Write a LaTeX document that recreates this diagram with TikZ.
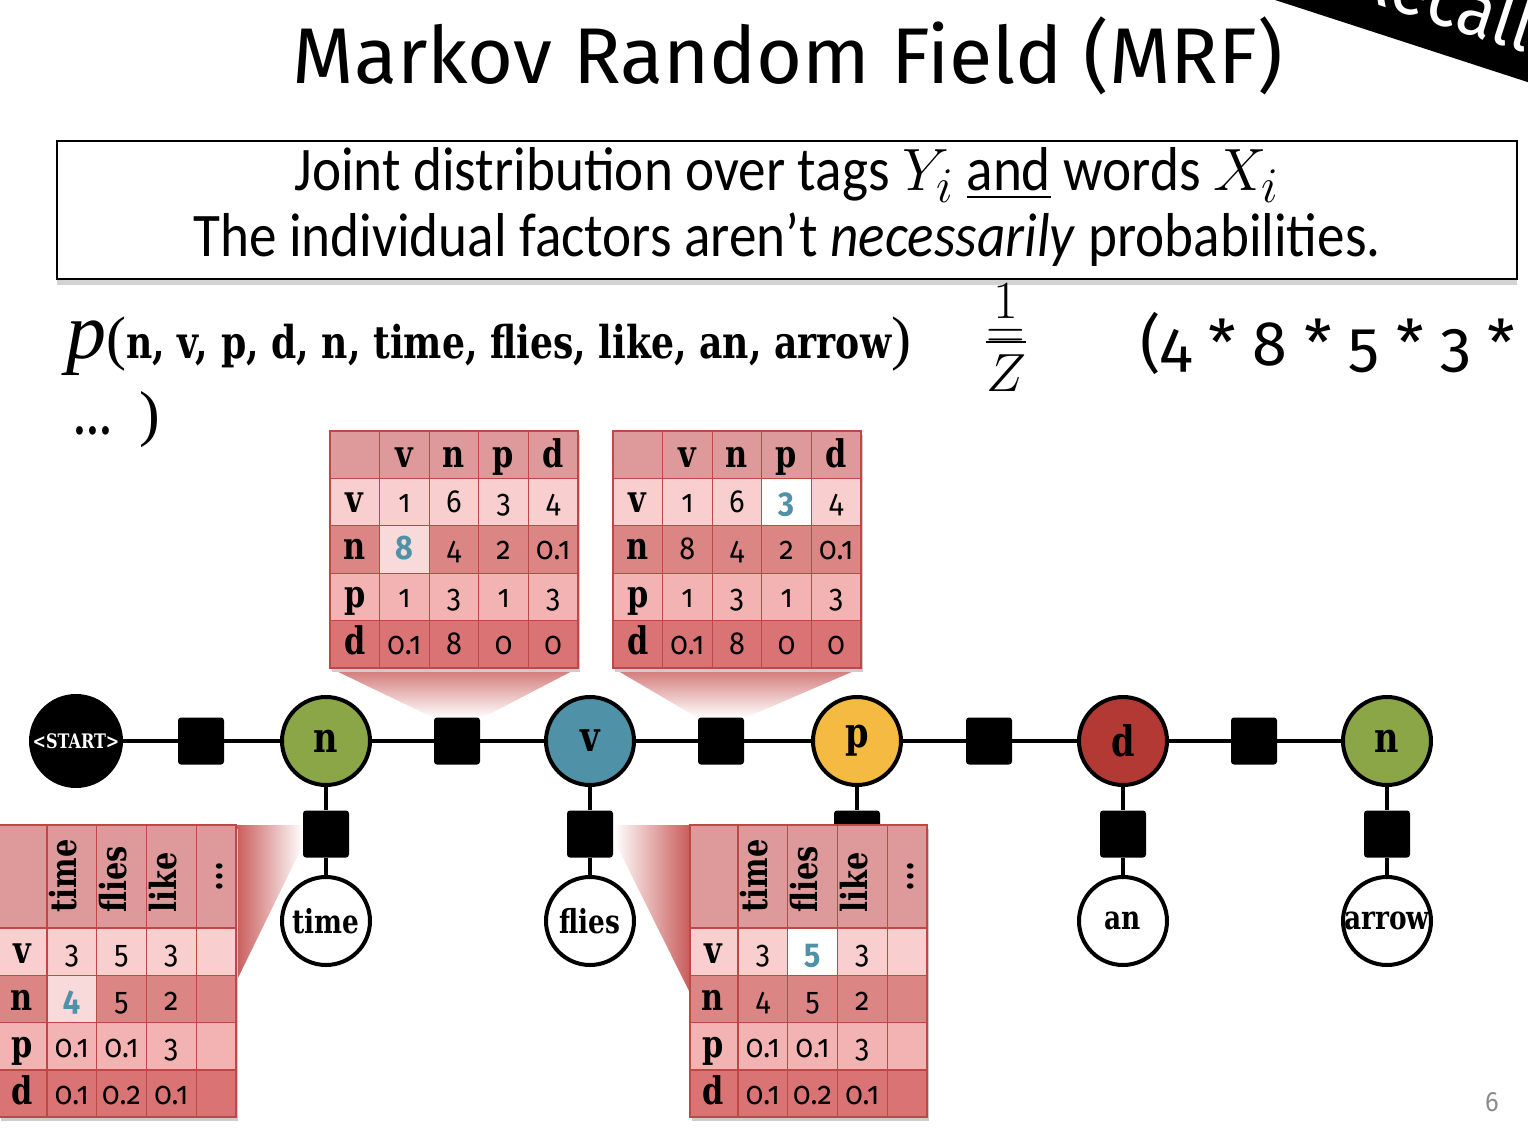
\documentclass[tikz,border=0pt]{standalone}
\usepackage{amsmath}
\usepackage{graphicx}
\usepackage{fontspec}
\setmainfont{Carlito}[FakeStretch=0.89]
\newfontfamily\gill{Fira Sans}[Numbers=OldStyle,FakeStretch=0.9]
\newfontfamily\gillwide{Fira Sans}[Numbers=OldStyle]
\newfontfamily\slab{DejaVu Serif}[FakeStretch=0.8]
\newfontfamily\timesfont{Liberation Serif}
\usetikzlibrary{shadows,positioning}
\definecolor{RowHead}{RGB}{222,154,154}
\definecolor{RowV}{RGB}{248,206,206}
\definecolor{RowN}{RGB}{219,133,133}
\definecolor{RowP}{RGB}{243,179,179}
\definecolor{RowD}{RGB}{218,116,116}
\definecolor{Hi}{RGB}{249,218,218}
\definecolor{Grid}{RGB}{190,72,70}
\definecolor{WedgeRed}{RGB}{200,92,90}
\definecolor{TagBlue}{RGB}{79,146,168}
\definecolor{TagGreen}{RGB}{139,166,71}
\definecolor{TagTeal}{RGB}{79,145,166}
\definecolor{TagYellow}{RGB}{244,186,66}
\definecolor{TagRed}{RGB}{179,58,52}

\tikzset{
  varnode/.style={circle,draw=black,line width=2pt,minimum size=44pt,inner sep=0pt,
    font=\slab\bfseries\fontsize{21}{24}\selectfont},
  wordnode/.style={circle,draw=black,fill=white,line width=2pt,minimum size=44pt,inner sep=0pt,
    font=\slab\bfseries\fontsize{16.5}{18}\selectfont},
  factor/.style={fill=black,rounded corners=1.5pt,minimum width=23pt,minimum height=23.5pt,inner sep=0pt},
  edge/.style={line width=2pt},
  gridline/.style={draw=Grid,line width=0.6pt},
  hdr/.style={font=\slab\bfseries\fontsize{19}{20}\selectfont,anchor=base,inner sep=0pt},
  whdr/.style={font=\slab\bfseries\fontsize{18}{20}\selectfont,rotate=90,anchor=mid west,inner sep=0pt},
  num/.style={font=\gill\fontsize{16}{18}\selectfont,anchor=base,inner sep=0pt},
  hinum/.style={text=TagBlue,font=\gill\bfseries\fontsize{17}{18}\selectfont},
}

\begin{document}
\begin{tikzpicture}[x=0.5pt,y=-0.5pt]
  \useasboundingbox (0,0) rectangle (1528,1130);

  % title and recall band
  \node[font=\gillwide\fontsize{39.5}{44}\selectfont,anchor=base,inner sep=0pt] (title) at (788,83) {Markov Random Field (MRF)};
  \begin{scope}
    \clip (0,0) rectangle (1528,1130);
    \fill[rotate around={-18:(1450,40)}] (1150,56) rectangle (1750,-200);
    \node[font=\gill\fontsize{38}{42}\selectfont,text=white,rotate=-18,anchor=base east,inner sep=0pt] (recall) at (1526,53) {Recall};
  \end{scope}

  % statement box
  \node[draw,fill=white,line width=1pt,minimum width=730pt,minimum height=69pt,
    drop shadow={shadow xshift=0pt,shadow yshift=-3pt,opacity=0.35}] (box) at (787,210) {};
  \node[font=\fontsize{31}{36}\selectfont,anchor=base,inner sep=0pt] (line1) at (787,190)
    {Joint distribution over tags \scalebox{1.2}{$Y_i$} \underline{and} words \scalebox{1.2}{$X_i$}};
  \node[font=\fontsize{31}{36}\selectfont,anchor=base,inner sep=0pt] (line2) at (787,256)
    {The individual factors aren’t \textit{necessarily} probabilities.};

  % the product
  \node[anchor=base west,inner sep=0pt] (joint) at (66,358)
    {{\timesfont\itshape\fontsize{40}{44}\selectfont p}{\timesfont\fontsize{30}{32}\selectfont(}{\slab\bfseries\fontsize{22.6}{24}\selectfont n, v, p, d, n, time, flies, like, an, arrow}{\timesfont\fontsize{30}{32}\selectfont)}};
  \node[anchor=base west,inner sep=0pt] (jointmore) at (73,434)
    {{\slab\bfseries\fontsize{23}{24}\selectfont...}\hspace{14pt}{\timesfont\fontsize{31}{32}\selectfont)}};
  \node[inner sep=0pt] (zfrac) at (1006,338) {\fontsize{31}{36}\selectfont\scalebox{1.08}{$\dfrac{1}{Z}$}};
  \node[inner sep=0pt] (zeq) at (1006,339) {\fontsize{31}{36}\selectfont\scalebox{1.08}{$=$}};
  \node[font=\gillwide\fontsize{31.5}{34}\selectfont,anchor=base west,inner sep=0pt] (prod) at (1140,365) {(4 * 8 * 5 * 3 *};

  % wedges from tables to factors
  \shade[top color=WedgeRed!85,bottom color=white] (330,668) -- (578,668) -- (482,718) -- (434,718) -- cycle;
  \shade[top color=WedgeRed!85,bottom color=white] (613,668) -- (861,668) -- (745,718) -- (698,718) -- cycle;
  \shade[left color=WedgeRed,right color=white] (236,825) -- (303,825) -- (303,845) -- (236,982) -- cycle;
  \shade[left color=white,right color=WedgeRed] (614,825) -- (690,825) -- (690,993) -- (614,840) -- cycle;

  % chain
  \node[varnode,fill=black,text=white,font=\slab\bfseries\fontsize{10}{12}\selectfont,minimum size=45pt] (start) at (76,741) {<START>};
  \node[factor] (f0) at (201,741) {};
  \node[varnode,fill=TagGreen] (y1) at (326,741) {n};
  \node[factor] (f1) at (457,741) {};
  \node[varnode,fill=TagTeal] (y2) at (590,741) {v};
  \node[factor] (f2) at (721,741) {};
  \node[varnode,fill=TagYellow] (y3) at (857,741) {p};
  \node[factor] (f3) at (989,741) {};
  \node[varnode,fill=TagRed] (y4) at (1123,741) {d};
  \node[factor] (f4) at (1254,741) {};
  \node[varnode,fill=TagGreen] (y5) at (1387,741) {n};
  \draw[edge] (start) -- (f0) -- (y1) -- (f1) -- (y2) -- (f2) -- (y3) -- (f3) -- (y4) -- (f4) -- (y5);

  \foreach \i/\x/\w in {1/326/time,2/590/flies,4/1123/an,5/1387/arrow}{
    \node[factor] (g\i) at (\x,834) {};
    \node[wordnode] (x\i) at (\x,921) {\w};
    \draw[edge] (y\i) -- (g\i) -- (x\i);
  }
  \node[factor] (g3) at (857,834) {};
  \draw[edge] (y3) -- (g3);

  % transition tables
  \foreach \tx/\tn/\hr/\hc/\hl in {330/A/2/1/Hi,613/B/1/3/white}{
    \begin{scope}[shift={(\tx,431)}]
      \fill[black!20] (2,4) rectangle (250,241);
      \foreach \col [count=\ri from 0] in {RowHead,RowV,RowN,RowP,RowD}
        \fill[\col] (0,47.4*\ri) rectangle (248,47.4*\ri+47.4);
      \fill[\hl] (49.6*\hc,47.4*\hr) rectangle ++(49.6,47.4);
      \foreach \i in {1,...,4}{
        \draw[gridline] (49.6*\i,0) -- (49.6*\i,237);
        \draw[gridline] (0,47.4*\i) -- (248,47.4*\i);
      }
      \draw[gridline,line width=1pt] (0,0) rectangle (248,237);
      \foreach \t [count=\i] in {v,n,p,d}{
        \node[hdr] (\tn-c\i) at (49.6*\i+24.8,36) {\t};
        \node[hdr] (\tn-r\i) at (24.8,47.4*\i+34) {\t};
      }
      \foreach \row [count=\ri] in {{1,6,3,4},{8,4,2,0.1},{1,3,1,3},{0.1,8,0,0}}
        \foreach \v [count=\ci] in \row {
          \ifnum\ri\ci=\hr\hc\relax
            \node[num,hinum] (\tn-\ri-\ci) at (49.6*\ci+24.8,47.4*\ri+34) {\v};
          \else
            \node[num] (\tn-\ri-\ci) at (49.6*\ci+24.8,47.4*\ri+34) {\v};
          \fi
        }
    \end{scope}
  }

  % emission tables
  \foreach \tx/\tn/\hr/\hc/\hl in {-1/C/2/1/Hi,690/D/1/2/white}{
    \begin{scope}[shift={(\tx,825)}]
      \fill[black!20] (2,4) rectangle (239,296);
      \fill[RowHead] (0,0) rectangle (237,103);
      \foreach \col [count=\ri from 0] in {RowV,RowN,RowP,RowD}
        \fill[\col] (0,103+47.3*\ri) rectangle (237,150.3+47.3*\ri);
      \fill[\hl] (48+49.7*\hc-49.7,103+47.3*\hr-47.3) rectangle ++(49.7,47.3);
      \foreach \x in {48,97.7,147.4,197.1} \draw[gridline] (\x,0) -- (\x,292.2);
      \foreach \y in {103,150.3,197.6,244.9} \draw[gridline] (0,\y) -- (237,\y);
      \draw[gridline,line width=1pt] (0,0) rectangle (237,292.2);
      \foreach \w [count=\i] in {time,flies,like}
        \node[whdr] (\tn-c\i) at (48+49.7*\i-24.85,88) {\w};
      \node[whdr,anchor=center] (\tn-c4) at (221,51) {...};
      \foreach \t [count=\i] in {v,n,p,d}
        \node[hdr] (\tn-r\i) at (23,103+47.3*\i-12.3) {\t};
      \foreach \row [count=\ri] in {{3,5,3},{4,5,2},{0.1,0.1,3},{0.1,0.2,0.1}}
        \foreach \v [count=\ci] in \row {
          \ifnum\ri\ci=\hr\hc\relax
            \node[num,hinum] (\tn-\ri-\ci) at (48+49.7*\ci-24.85,103+47.3*\ri-12.3) {\v};
          \else
            \node[num] (\tn-\ri-\ci) at (48+49.7*\ci-24.85,103+47.3*\ri-12.3) {\v};
          \fi
        }
    \end{scope}
  }

  \node[font=\gill\fontsize{14}{16}\selectfont,text=black!45] (pagenum) at (1492,1102) {6};
\end{tikzpicture}
\end{document}
